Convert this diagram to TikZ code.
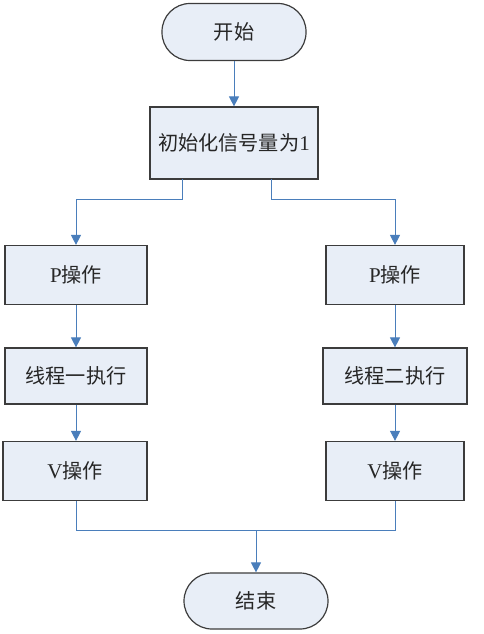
\documentclass[tikz,border=0pt]{standalone}
\usepackage{fontspec}
\setmainfont{Liberation Serif}
\newfontfamily\cjk{Noto Sans CJK SC}[Scale=0.96]
\usetikzlibrary{arrows.meta}
\definecolor{boxfill}{HTML}{E8EEF7}
\definecolor{boxdraw}{HTML}{3C3C3C}
\definecolor{arrowcol}{HTML}{4A7EBB}
\tikzset{
  box/.style={draw=boxdraw, fill=boxfill, line width=1.2pt, rectangle, inner sep=0pt, font=\fontsize{21}{24}\selectfont, text=black!85},
  term/.style={box, rounded corners=28pt},
  arrowline/.style={draw=arrowcol, line width=1pt, -{Triangle[length=10pt,width=10pt]}},
  plainline/.style={draw=arrowcol, line width=1pt}
}
\begin{document}
\begin{tikzpicture}[x=1pt,y=-1pt]
\useasboundingbox (0,0) rectangle (484,634);
\node[term, minimum width=144pt, minimum height=57pt] (start) at (234,32) {\cjk 开始};
\node[box, minimum width=168pt, minimum height=72pt] (init) at (234,143) {{\cjk 初始化信号量为}1};
\node[box, minimum width=142pt, minimum height=59pt] (Pl) at (76,275) {P{\cjk 操作}};
\node[box, minimum width=138pt, minimum height=59pt] (Pr) at (395,275) {P{\cjk 操作}};
\node[box, minimum width=142pt, minimum height=56pt] (Tl) at (76,376) {\cjk 线程一执行};
\node[box, minimum width=144pt, minimum height=56pt] (Tr) at (395,376) {\cjk 线程二执行};
\node[box, minimum width=144pt, minimum height=59pt] (Vl) at (75,471) {V{\cjk 操作}};
\node[box, minimum width=138pt, minimum height=59pt] (Vr) at (395,471) {V{\cjk 操作}};
\node[term, minimum width=144pt, minimum height=56pt] (end) at (256,601) {\cjk 结束};
\coordinate (sl) at (182,179);
\coordinate (sr) at (271,179);
\coordinate (m) at (256,530);
\draw[arrowline] (start) -- (init);
\draw[arrowline] (sl) -- ++(0,20) -| (Pl.north);
\draw[arrowline] (sr) -- ++(0,20) -| (Pr.north);
\draw[arrowline] (Pl) -- (Tl);
\draw[arrowline] (Pr) -- (Tr);
\draw[arrowline] (Tl) -- (Tl |- Vl.north);
\draw[arrowline] (Tr) -- (Tr |- Vr.north);
\draw[plainline] (Vl.south -| Tl) |- (m);
\draw[plainline] (Vr.south -| Tr) |- (m);
\draw[arrowline] (m) -- (end);
\end{tikzpicture}
\end{document}
